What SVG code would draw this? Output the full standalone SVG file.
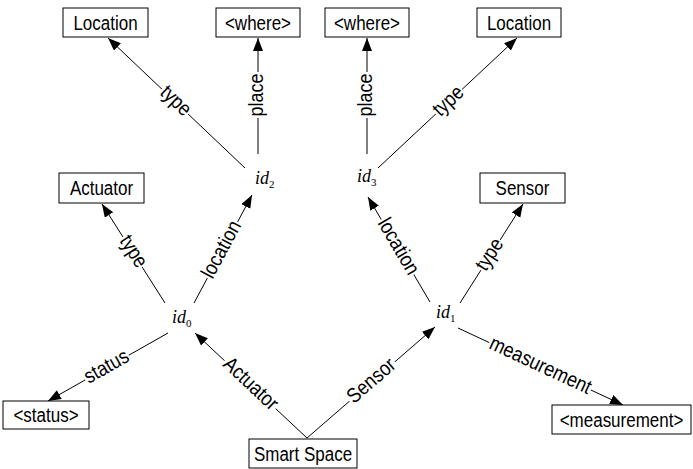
<svg xmlns="http://www.w3.org/2000/svg" width="693" height="469" viewBox="0 0 693 469">
  <style>
    .box text, .lbl text { font-family: "Liberation Sans", Arial, sans-serif; fill: #000; text-anchor: middle; }
    .box text { font-size: 17px; }
    .lbl text { font-size: 18px; }
    .box rect { fill: #fff; stroke: #000; stroke-width: 1; }
    .res text { font-family: "Liberation Serif", "Times New Roman", serif; font-style: italic; font-size: 18px; fill: #000; }
    .res .sub { font-size: 11px; font-style: normal; }
    .edge { stroke: #000; stroke-width: 1; fill: none; marker-end: url(#arrow); }
    .lbl rect { fill: #fff; }
  </style>
  <defs>
    <marker id="arrow" markerUnits="userSpaceOnUse" markerWidth="14" markerHeight="11" refX="13" refY="5" orient="auto">
      <path d="M0,0 L13,5 L0,10 z" fill="#000"/>
    </marker>
  </defs>

  <rect width="693" height="469" fill="#fff"/>

  <!-- connectors -->
  <g id="connectors">
    <line class="edge" x1="307" y1="438" x2="195" y2="333"/>
    <line class="edge" x1="307" y1="438" x2="435" y2="327"/>
    <line class="edge" x1="165" y1="303" x2="102" y2="204"/>
    <line class="edge" x1="194" y1="303" x2="252" y2="195"/>
    <line class="edge" x1="168" y1="333" x2="48" y2="401"/>
    <line class="edge" x1="245" y1="168" x2="108" y2="38"/>
    <line class="edge" x1="258" y1="154" x2="258" y2="38"/>
    <line class="edge" x1="367" y1="154" x2="367" y2="38"/>
    <line class="edge" x1="378" y1="168" x2="517" y2="38"/>
    <line class="edge" x1="430" y1="302" x2="368" y2="197"/>
    <line class="edge" x1="460" y1="303" x2="523" y2="204"/>
    <line class="edge" x1="458" y1="328" x2="623" y2="405"/>

    <!-- edge labels -->
    <g class="lbl" transform="translate(250,384.6) rotate(43.2)">
      <rect x="-35" y="-5" width="70" height="10"/>
      <text y="4.6" transform="scale(1,1.15)">Actuator</text>
    </g>
    <g class="lbl" transform="translate(372,381.5) rotate(-40.9)">
      <rect x="-30" y="-5" width="60" height="10"/>
      <text y="4.6" transform="scale(1,1.15)">Sensor</text>
    </g>
    <g class="lbl" transform="translate(132.5,252) rotate(57.5)">
      <rect x="-18" y="-5" width="36" height="10"/>
      <text y="4.6" transform="scale(1,1.15)">type</text>
    </g>
    <g class="lbl" transform="translate(222.4,250) rotate(-61.8)">
      <rect x="-32" y="-5" width="64" height="10"/>
      <text y="4.6" transform="scale(1,1.15)">location</text>
    </g>
    <g class="lbl" transform="translate(107,367.6) rotate(-29.5)">
      <rect x="-25" y="-5" width="50" height="10"/>
      <text y="4.6" transform="scale(1,1.15)">status</text>
    </g>
    <g class="lbl" transform="translate(175,101.5) rotate(43.5)">
      <rect x="-18" y="-5" width="36" height="10"/>
      <text y="4.6" transform="scale(1,1.15)">type</text>
    </g>
    <g class="lbl" transform="translate(258,95) rotate(-90)">
      <rect x="-23" y="-5" width="46" height="10"/>
      <text y="4.6" transform="scale(1,1.15)">place</text>
    </g>
    <g class="lbl" transform="translate(367,95) rotate(-90)">
      <rect x="-23" y="-5" width="46" height="10"/>
      <text y="4.6" transform="scale(1,1.15)">place</text>
    </g>
    <g class="lbl" transform="translate(449,101.7) rotate(-43.1)">
      <rect x="-18" y="-5" width="36" height="10"/>
      <text y="4.6" transform="scale(1,1.15)">type</text>
    </g>
    <g class="lbl" transform="translate(397.5,247) rotate(59.4)">
      <rect x="-32" y="-5" width="64" height="10"/>
      <text y="4.6" transform="scale(1,1.15)">location</text>
    </g>
    <g class="lbl" transform="translate(490.5,255) rotate(-57.5)">
      <rect x="-18" y="-5" width="36" height="10"/>
      <text y="4.6" transform="scale(1,1.15)">type</text>
    </g>
    <g class="lbl" transform="translate(540,366.3) rotate(25)">
      <rect x="-56" y="-5" width="112" height="10"/>
      <text y="4.6" transform="scale(1,1.15)">measurement</text>
    </g>
  </g>

  <!-- resource nodes -->
  <g id="id0" class="res"><text x="172" y="323">id<tspan class="sub" dy="4">0</tspan></text></g>
  <g id="id1" class="res"><text x="436" y="318">id<tspan class="sub" dy="4">1</tspan></text></g>
  <g id="id2" class="res"><text x="255" y="184">id<tspan class="sub" dy="4">2</tspan></text></g>
  <g id="id3" class="res"><text x="357" y="182">id<tspan class="sub" dy="4">3</tspan></text></g>

  <!-- literal / class nodes -->
  <g id="location-left" class="box">
    <rect x="63" y="8" width="85" height="29"/>
    <text transform="translate(105.5,29.5) scale(1,1.15)">Location</text>
  </g>
  <g id="where-left" class="box">
    <rect x="216" y="8" width="84" height="29"/>
    <text transform="translate(258,29.5) scale(1,1.15)">&lt;where&gt;</text>
  </g>
  <g id="where-right" class="box">
    <rect x="325" y="8" width="84" height="29"/>
    <text transform="translate(367,29.5) scale(1,1.15)">&lt;where&gt;</text>
  </g>
  <g id="location-right" class="box">
    <rect x="477" y="8" width="84" height="29"/>
    <text transform="translate(519,29.5) scale(1,1.15)">Location</text>
  </g>
  <g id="actuator" class="box">
    <rect x="59" y="173" width="85" height="30"/>
    <text transform="translate(101.5,195) scale(1,1.15)">Actuator</text>
  </g>
  <g id="sensor" class="box">
    <rect x="480" y="173" width="85" height="30"/>
    <text transform="translate(522.5,195) scale(1,1.15)">Sensor</text>
  </g>
  <g id="status" class="box">
    <rect x="3" y="401" width="86" height="28"/>
    <text transform="translate(46,422) scale(1,1.15)">&lt;status&gt;</text>
  </g>
  <g id="measurement" class="box">
    <rect x="552" y="405" width="139" height="29"/>
    <text transform="translate(621.5,426.5) scale(1,1.15)">&lt;measurement&gt;</text>
  </g>
  <g id="smart-space" class="box">
    <rect x="249" y="439" width="108" height="29"/>
    <text transform="translate(303,460.5) scale(1,1.15)">Smart Space</text>
  </g>
</svg>
